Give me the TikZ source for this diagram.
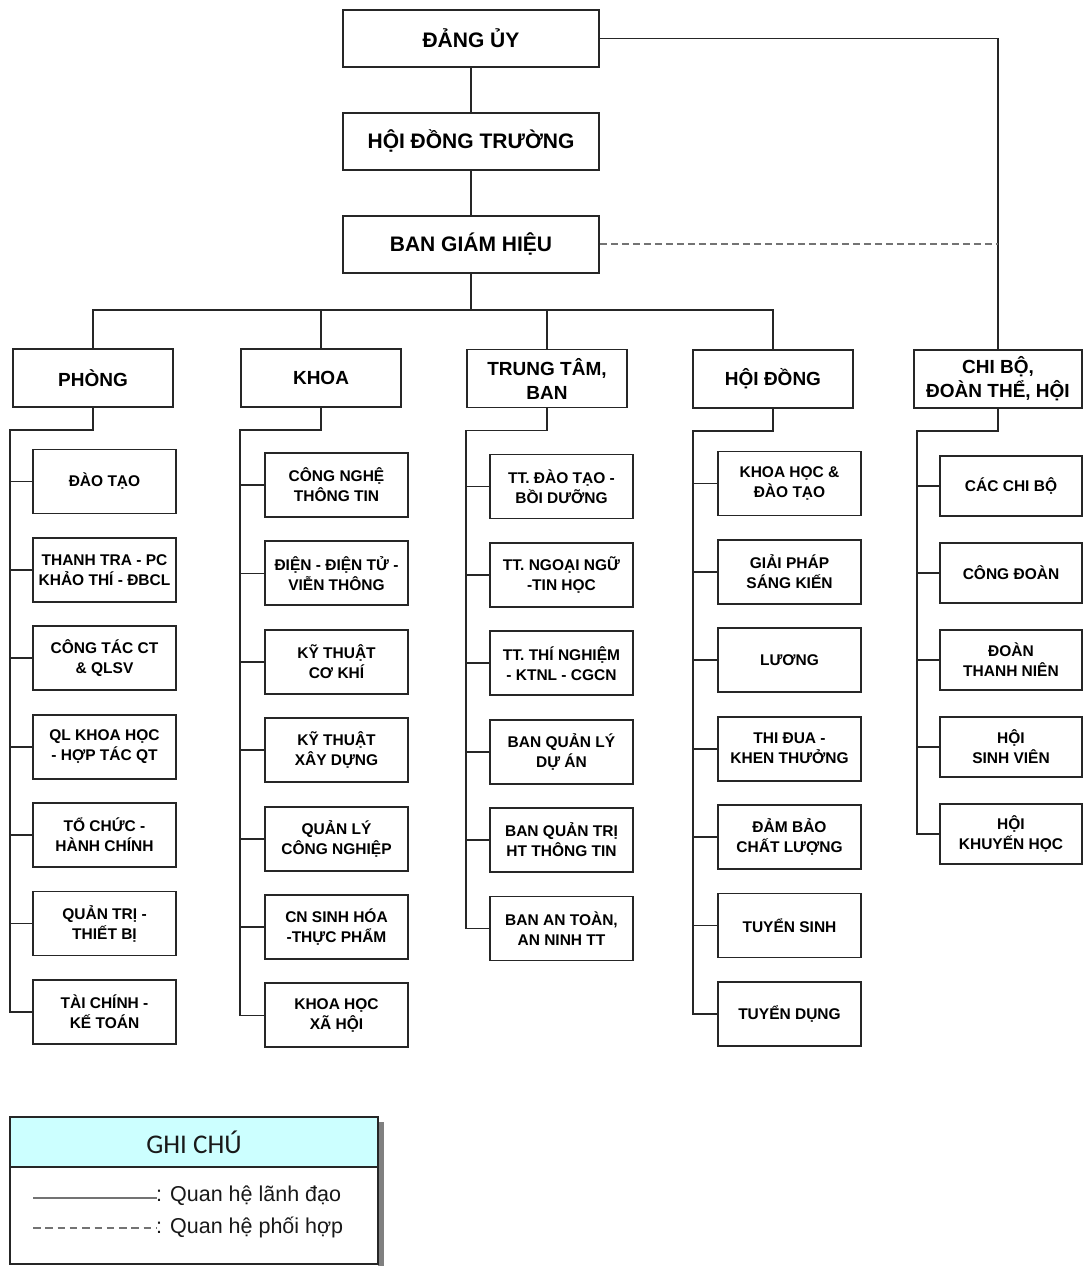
\documentclass[tikz,border=0pt]{standalone}
\usepackage{fontspec}
\setmainfont{Liberation Sans}
\newfontfamily\notefont{Carlito}
\usetikzlibrary{positioning}
\definecolor{notecyan}{HTML}{CCFFFF}
\tikzset{
box/.style={draw=black!85, line width=1.9pt, fill=white, align=center, inner sep=2pt},
top/.style={box, minimum width=256pt, minimum height=57pt, font=\bfseries\fontsize{21}{25}\selectfont},
group/.style={box, minimum width=160pt, minimum height=58pt, font=\bfseries\fontsize{19}{24}\selectfont},
unit/.style={box, minimum width=143pt, minimum height=64pt, font=\bfseries\fontsize{15.5}{20}\selectfont},
link/.style={draw=black!85, line width=1.8pt},
coop/.style={draw=black!55, line width=2.2pt, dash pattern=on 7pt off 4pt},
node distance=22.5pt,
}

\begin{document}
\begin{tikzpicture}[x=1pt, y=-1pt]
        \useasboundingbox (0,0) rectangle (1083,1266);

        \node[top] (dang) at (471,38.5) {ĐẢNG ỦY};
        \node[top,below=44pt of dang] (hdt) {HỘI ĐỒNG TRƯỜNG};
        \node[top,below=44pt of hdt] (bgh) {BAN GIÁM HIỆU};

        \node[group] (phong) at (93,378) {PHÒNG};
        \node[group] (khoa) at (321,378) {KHOA};
        \node[group] (ttb) at (547,378.5) {TRUNG TÂM,\\BAN};
        \node[group] (hdong) at (773,379) {HỘI ĐỒNG};
        \node[group,minimum width=168pt] (cbo) at (998,379) {CHI BỘ,\\ĐOÀN THỂ, HỘI};

        % phong
        \node[unit] (p1) at (104.5,481.5) {ĐÀO TẠO};
        \node[unit,below=of p1] (p2) {THANH TRA - PC\\KHẢO THÍ - ĐBCL};
        \node[unit,below=of p2] (p3) {CÔNG TÁC CT\\\& QLSV};
        \node[unit,below=of p3] (p4) {QL KHOA HỌC\\- HỢP TÁC QT};
        \node[unit,below=of p4] (p5) {TỔ CHỨC -\\HÀNH CHÍNH};
        \node[unit,below=of p5] (p6) {QUẢN TRỊ -\\THIẾT BỊ};
        \node[unit,below=of p6] (p7) {TÀI CHÍNH -\\KẾ TOÁN};

        % khoa
        \node[unit] (k1) at (336.5,485) {CÔNG NGHỆ\\THÔNG TIN};
        \node[unit,below=of k1] (k2) {ĐIỆN - ĐIỆN TỬ -\\VIỄN THÔNG};
        \node[unit,below=of k2] (k3) {KỸ THUẬT\\CƠ KHÍ};
        \node[unit,below=of k3] (k4) {KỸ THUẬT\\XÂY DỰNG};
        \node[unit,below=of k4] (k5) {QUẢN LÝ\\CÔNG NGHIỆP};
        \node[unit,below=of k5] (k6) {CN SINH HÓA\\-THỰC PHẨM};
        \node[unit,below=of k6] (k7) {KHOA HỌC\\XÃ HỘI};

        % trung tam, ban
        \node[unit] (t1) at (561.5,486.5) {TT. ĐÀO TẠO -\\BỒI DƯỠNG};
        \node[unit,below=of t1] (t2) {TT. NGOẠI NGỮ\\-TIN HỌC};
        \node[unit,below=of t2] (t3) {TT. THÍ NGHIỆM\\- KTNL - CGCN};
        \node[unit,below=of t3] (t4) {BAN QUẢN LÝ\\DỰ ÁN};
        \node[unit,below=of t4] (t5) {BAN QUẢN TRỊ\\HT THÔNG TIN};
        \node[unit,below=of t5] (t6) {BAN AN TOÀN,\\AN NINH TT};

        % hoi dong
        \node[unit] (h1) at (789.5,483.5) {KHOA HỌC \&\\ĐÀO TẠO};
        \node[unit,below=of h1] (h2) {GIẢI PHÁP\\SÁNG KIẾN};
        \node[unit,below=of h2] (h3) {LƯƠNG};
        \node[unit,below=of h3] (h4) {THI ĐUA -\\KHEN THƯỞNG};
        \node[unit,below=of h4] (h5) {ĐẢM BẢO\\CHẤT LƯỢNG};
        \node[unit,below=of h5] (h6) {TUYỂN SINH};
        \node[unit,below=of h6] (h7) {TUYỂN DỤNG};

        % chi bo, doan the, hoi
        \node[unit,minimum width=142pt,minimum height=60pt] (c1) at (1011,486) {CÁC CHI BỘ};
        \node[unit,minimum width=142pt,minimum height=60pt,below=25pt of c1] (c2) {CÔNG ĐOÀN};
        \node[unit,minimum width=142pt,minimum height=60pt,below=25pt of c2] (c3) {ĐOÀN\\THANH NIÊN};
        \node[unit,minimum width=142pt,minimum height=60pt,below=25pt of c3] (c4) {HỘI\\SINH VIÊN};
        \node[unit,minimum width=142pt,minimum height=60pt,below=25pt of c4] (c5) {HỘI\\KHUYẾN HỌC};

        \coordinate (bus) at (471,310);

        \draw[link] (dang) -- (hdt);
        \draw[link] (hdt) -- (bgh);
        \draw[link] (dang.east) -| (cbo.north);
        \draw[coop] (bgh.east) -- (bgh.east -| cbo.north);
        \draw[link] (bgh.south) -- (bus);
        \draw[link] (phong.north) |- (bus) -| (hdong.north);
        \draw[link] (khoa.north) -- (khoa.north |- bus);
        \draw[link] (ttb.north) -- (ttb.north |- bus);

        \draw[link] (phong.south) |- ([yshift=-22pt,xshift=-2pt]phong.south west) |- (p7.west);
        \draw[link] ([xshift=-2pt]phong.west |- p1.west) -- (p1.west);
        \draw[link] ([xshift=-2pt]phong.west |- p2.west) -- (p2.west);
        \draw[link] ([xshift=-2pt]phong.west |- p3.west) -- (p3.west);
        \draw[link] ([xshift=-2pt]phong.west |- p4.west) -- (p4.west);
        \draw[link] ([xshift=-2pt]phong.west |- p5.west) -- (p5.west);
        \draw[link] ([xshift=-2pt]phong.west |- p6.west) -- (p6.west);

        \draw[link] (khoa.south) |- ([yshift=-22pt]khoa.south west) |- (k7.west);
        \draw[link] (khoa.west |- k1.west) -- (k1.west);
        \draw[link] (khoa.west |- k2.west) -- (k2.west);
        \draw[link] (khoa.west |- k3.west) -- (k3.west);
        \draw[link] (khoa.west |- k4.west) -- (k4.west);
        \draw[link] (khoa.west |- k5.west) -- (k5.west);
        \draw[link] (khoa.west |- k6.west) -- (k6.west);

        \draw[link] (ttb.south) |- ([yshift=-22pt]ttb.south west) |- (t6.west);
        \draw[link] (ttb.west |- t1.west) -- (t1.west);
        \draw[link] (ttb.west |- t2.west) -- (t2.west);
        \draw[link] (ttb.west |- t3.west) -- (t3.west);
        \draw[link] (ttb.west |- t4.west) -- (t4.west);
        \draw[link] (ttb.west |- t5.west) -- (t5.west);

        \draw[link] (hdong.south) |- ([yshift=-22pt,xshift=1pt]hdong.south west) |- (h7.west);
        \draw[link] ([xshift=1pt]hdong.west |- h1.west) -- (h1.west);
        \draw[link] ([xshift=1pt]hdong.west |- h2.west) -- (h2.west);
        \draw[link] ([xshift=1pt]hdong.west |- h3.west) -- (h3.west);
        \draw[link] ([xshift=1pt]hdong.west |- h4.west) -- (h4.west);
        \draw[link] ([xshift=1pt]hdong.west |- h5.west) -- (h5.west);
        \draw[link] ([xshift=1pt]hdong.west |- h6.west) -- (h6.west);

        \draw[link] (cbo.south) |- ([yshift=-22pt,xshift=4pt]cbo.south west) |- (c5.west);
        \draw[link] ([xshift=4pt]cbo.west |- c1.west) -- (c1.west);
        \draw[link] ([xshift=4pt]cbo.west |- c2.west) -- (c2.west);
        \draw[link] ([xshift=4pt]cbo.west |- c3.west) -- (c3.west);
        \draw[link] ([xshift=4pt]cbo.west |- c4.west) -- (c4.west);

        % ghi chu
        \fill[black!50] (378,1122) rectangle (384,1266);
        \draw[line width=1.6pt, draw=black!85, fill=notecyan] (10,1117) rectangle (378,1167);
        \draw[line width=1.6pt, draw=black!85, fill=white] (10,1167) rectangle (378,1264);
        \node[font=\notefont\fontsize{27}{30}\selectfont, text=black!90] (note) at (194,1142) {GHI CHÚ};
        \draw[black!55, line width=2.8pt] (33,1198) -- (157,1198);
        \draw[black!55, line width=2.2pt, dash pattern=on 7.5pt off 4.8pt] (33,1228) -- (157,1228);
        \node[anchor=west, inner sep=0pt, font=\fontsize{21.5}{24}\selectfont, text=black!90] (lead) at (156,1196) {: Quan hệ lãnh đạo};
        \node[anchor=west, inner sep=0pt, font=\fontsize{21.5}{24}\selectfont, text=black!90] (coord) at (156,1227) {: Quan hệ phối hợp};
    \end{tikzpicture}
\end{document}
